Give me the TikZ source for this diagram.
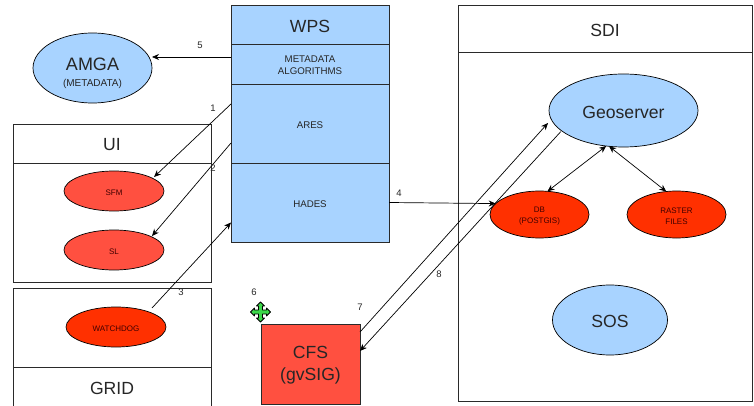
\documentclass[tikz,border=0pt]{standalone}
\usepackage{fontspec}
\setmainfont{Liberation Sans}
\usetikzlibrary{shapes.geometric,arrows.meta}
\definecolor{lblue}{HTML}{A8D3FF}
\definecolor{lred}{HTML}{FF5040}
\definecolor{hred}{HTML}{FF3000}
\definecolor{edge}{HTML}{2A2A2A}
\definecolor{mvgreen}{HTML}{3CD84A}
\newcommand{\dn}[1]{\raisebox{-1.5pt}[\height][\depth]{#1}}
\newcommand{\dnam}[1]{\raisebox{-5.5pt}[\height][\depth]{#1}}
\tikzset{
  every node/.style={inner sep=0pt,outer sep=0pt,text=black!85,align=center},
  boxn/.style 2 args={draw=edge,line width=.9pt,rectangle,minimum width=#1,minimum height=#2},
  ell/.style 2 args={draw=black,line width=.7pt,ellipse,minimum width=#1,minimum height=#2},
  big/.style={font=\fontsize{17.6}{22}\selectfont},
  mid/.style={font=\fontsize{9.7}{12.4}\selectfont},
  tiny/.style={font=\fontsize{8}{10.5}\selectfont,text=black!75!red},
  num/.style={font=\fontsize{9.5}{10}\selectfont},
  conn/.style={draw=black,line width=.7pt,-{Stealth[length=7pt,width=6pt]}},
  dconn/.style={draw=black,line width=.7pt,{Stealth[length=7pt,width=6pt]}-{Stealth[length=7pt,width=6pt]}}
}
\begin{document}
\begin{tikzpicture}[x=1pt,y=-1pt]
\useasboundingbox (0,0) rectangle (754,406);
% WPS
\node[boxn={158pt}{39pt},fill=lblue,big] (wps) at (310,24.5) {\dn{WPS}};
\node[boxn={158pt}{40pt},fill=lblue,mid] (meta) at (310,64) {\dn{METADATA}\\\dn{ALGORITHMS}};
\node[boxn={158pt}{79pt},fill=lblue,mid] (ares) at (310,123.5) {\dn{ARES}};
\node[boxn={158pt}{79pt},fill=lblue,mid] (hades) at (310,202.5) {\dn{HADES}};
% AMGA
\node[ell={119pt}{70pt},fill=lblue,font=\fontsize{18}{22}\selectfont] (amga) at (92.5,68) {\dnam{AMGA}\\[-6pt]\dnam{\fontsize{10}{12}\selectfont (METADATA)}};
% UI
\node[boxn={198pt}{39pt},big] (ui) at (112,143.5) {\dn{UI}};
\node[boxn={198pt}{119pt}] (uibody) at (112,222.5) {};
\node[ell={100pt}{40pt},fill=lred,tiny] (sfm) at (114,191) {\dn{SFM}};
\node[ell={100pt}{40pt},fill=lred,tiny] (sl) at (114,250) {\dn{SL}};
% GRID
\node[boxn={198pt}{79pt}] (gridbody) at (112,327.5) {};
\node[boxn={198pt}{50pt},big] (grid) at (112,392) {};
\node[big] (gridtext) at (112,388) {GRID};
\node[ell={100pt}{40pt},fill=hred,font=\fontsize{8}{10}\selectfont,text=black!75!red] (watchdog) at (116,327) {\dn{WATCHDOG}};
% CFS
\node[boxn={99pt}{80pt},fill=lred,big] (cfs) at (310.5,364) {\dn{CFS}\\\dn{(gvSIG)}};
% SDI
\node[boxn={294pt}{47pt},big] (sdi) at (605,28.5) {\dn{SDI}};
\node[boxn={294pt}{349pt}] (sdibody) at (605,226.5) {};
\node[ell={149pt}{73pt},fill=lblue,big] (geo) at (623.5,110.5) {\dn{Geoserver}};
\node[ell={99pt}{47pt},fill=hred,tiny] (db) at (539.5,214.5) {\dn{DB}\\\dn{(POSTGIS)}};
\node[ell={99pt}{47pt},fill=hred,tiny] (raster) at (676.5,214.5) {\dn{RASTER}\\\dn{FILES}};
\node[ell={115pt}{70pt},fill=lblue,big] (sos) at (610,320) {\dn{SOS}};
% connectors
\draw[conn] (meta.west |- 0,57) -- (amga.east |- 0,57);
\draw[conn] ([yshift=19.5pt]ares.west) -- ([xshift=40pt,yshift=14pt]sfm.center);
\draw[conn] ([yshift=-19.5pt]ares.west) -- ([xshift=38pt,yshift=14pt]sl.center);
\draw[conn] ([xshift=36pt,yshift=19pt]watchdog.center) -- ([yshift=-20pt]hades.west);
\draw[conn] (hades.east) -- (db.166);
\draw[conn] ([yshift=32pt]cfs.east) -- ([xshift=-75.5pt,yshift=-12.5pt]geo.center);
\draw[conn] ([xshift=-62.8pt,yshift=-21.2pt]geo.center) -- ([yshift=13pt]cfs.east);
\draw[dconn] (db.71) -- (geo.244);
\draw[dconn] (raster.114) -- (geo.248);
% numbers
\node[num] (n5) at (200,45) {5};
\node[num] (n1) at (213,108) {1};
\node[num] (n2) at (213,168) {2};
\node[num] (n3) at (181,292) {3};
\node[num] (n4) at (399,193) {4};
\node[num] (n6) at (254,292) {6};
\node[num] (n7) at (360,307) {7};
\node[num] (n8) at (439,274) {8};
% move icon
\begin{scope}[shift={(260.5,312)}]
\draw[fill=mvgreen,draw=black,line width=.8pt,line join=round]
 (0,-10) -- (4,-6) -- (2,-6) -- (2,-2) -- (6,-2) -- (6,-4) -- (10,0) -- (6,4) -- (6,2) -- (2,2) -- (2,6) -- (4,6) -- (0,10) -- (-4,6) -- (-2,6) -- (-2,2) -- (-6,2) -- (-6,4) -- (-10,0) -- (-6,-4) -- (-6,-2) -- (-2,-2) -- (-2,-6) -- (-4,-6) -- cycle;
\end{scope}
\end{tikzpicture}
\end{document}
